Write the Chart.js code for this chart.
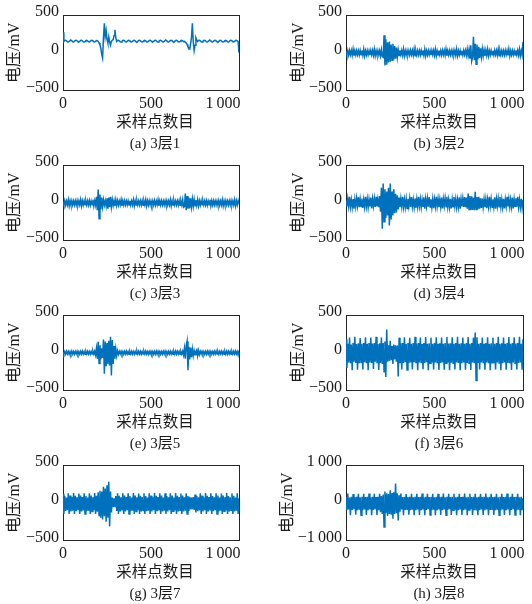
<!DOCTYPE html>
<html>
<head>
<meta charset="utf-8">
<title>3层小波包分解</title>
<script src="https://cdn.jsdelivr.net/npm/chart.js@4.4.1/dist/chart.umd.min.js"></script>
<style>
html, body { margin: 0; padding: 0; width: 532px; height: 604px; overflow: hidden; background: #fff; }
canvas { position: absolute; }
</style>
</head>
<body>
<script>
// values read every 5th sample point (x = index * sampleStep)
var sampleStep = 5;

var layer1 = [
  270,150,162,166,158,146,142,150,162,166,158,146,142,150,162,166,158,146,142,150,
  162,166,158,146,142,150,162,166,158,146,142,150,162,166,158,146,142,150,162,160,
  150,130,100,60,-20,-70,200,390,210,290,180,130,210,140,100,150,165,175,230,305,
  200,150,162,166,158,146,142,150,162,166,158,146,142,150,162,166,158,146,142,150,
  162,166,158,146,142,150,162,166,158,146,142,150,162,166,158,146,142,150,162,166,
  158,146,142,150,162,166,158,146,142,150,162,166,158,146,142,150,162,166,158,146,
  142,150,162,166,158,146,142,150,162,166,158,146,142,150,162,166,158,146,150,140,
  130,110,80,60,50,120,200,390,150,30,100,200,170,150,162,166,158,146,142,150,
  162,166,158,146,142,150,162,166,158,146,142,150,162,166,158,146,142,150,162,166,
  158,146,142,150,162,166,158,146,142,150,162,166,158,146,142,150,162,166,158,150,
  0
];

var layer2 = [
  20,-30,28,-30,32,-26,30,-34,48,-40,26,-30,30,-28,28,-30,32,-26,30,-34,
  48,-40,26,-30,30,-28,28,-30,32,-26,30,-34,48,-40,26,-30,30,-28,28,-40,
  40,-50,-60,233,-167,180,-160,140,-130,150,-120,110,-100,120,-90,90,-80,70,-60,40,
  -35,32,-26,30,-34,48,-40,26,-30,30,-28,28,-30,32,-26,30,-34,48,-40,26,
  -30,30,-28,28,-30,32,-26,30,-34,48,-40,26,-30,30,-28,28,-30,32,-26,30,
  -34,48,-40,26,-30,30,-28,28,-30,32,-26,30,-34,48,-40,26,-30,30,-28,28,
  -30,32,-26,30,-34,48,-40,26,-30,30,-28,28,-30,32,-26,30,-34,48,-40,40,
  -80,100,-110,-60,211,-100,120,-153,110,-90,80,-70,60,-55,50,-45,40,-40,35,-34,
  48,-40,26,-30,30,-28,28,-30,32,-26,30,-34,48,-40,26,-30,30,-28,28,-30,
  32,-26,30,-34,48,-40,26,-30,30,-28,28,-30,32,-26,30,-34,48,-40,26,-30,
  144
];

var layer3 = [
  10,-30,28,-32,24,-28,40,-42,26,-30,28,-28,24,-30,25,-30,28,-32,24,-28,
  40,-42,26,-30,28,-28,24,-30,25,-30,28,-32,24,-28,40,-42,26,-30,80,-100,
  176,-211,110,-90,70,-50,40,-30,28,-45,60,-78,70,-60,78,-55,40,-35,30,-45,
  40,-35,28,-32,24,-28,40,-42,26,-30,28,-28,24,-30,25,-30,28,-32,24,-28,
  40,-42,26,-30,28,-28,24,-30,25,-30,28,-32,24,-28,40,-42,26,-30,28,-28,
  24,-30,25,-30,28,-32,24,-28,40,-42,26,-30,28,-28,24,-30,25,-30,28,-32,
  24,-28,40,-42,26,-30,28,-28,24,-30,25,-30,28,-32,24,-28,40,-60,-50,122,
  -100,90,-80,70,-75,60,-55,50,-48,45,-40,35,-35,40,-42,26,-30,28,-28,24,
  -30,25,-30,28,-32,24,-28,40,-42,26,-30,28,-28,24,-30,25,-30,28,-32,24,
  -28,40,-42,26,-30,28,-28,24,-30,25,-30,28,-32,24,-28,40,-42,26,-30,28,
  -20
];

var layer4 = [
  30,-50,55,-45,78,-55,40,-60,50,-78,45,-52,60,-40,75,-58,48,-50,55,-70,
  42,-55,78,-48,50,-62,45,-50,70,-75,52,-45,58,-55,78,-50,40,-60,90,-120,
  200,-344,256,-250,180,-200,150,-170,200,-300,256,-220,150,-167,180,-140,120,-130,100,-90,
  70,-60,55,-50,78,-55,45,-58,50,-75,52,-45,60,-55,75,-50,45,-60,55,-70,
  48,-52,78,-45,50,-60,42,-55,72,-78,50,-48,58,-52,75,-55,45,-60,50,-72,
  45,-50,78,-48,52,-58,44,-55,70,-76,50,-45,60,-52,78,-56,42,-60,52,-74,
  46,-52,76,-46,50,-60,44,-55,72,-78,50,-48,58,-54,76,-60,70,-80,122,-90,
  90,-100,85,-95,70,-100,144,-90,75,-85,80,-78,60,-70,55,-60,50,-58,48,-72,
  45,-52,78,-46,50,-60,44,-55,72,-78,50,-48,58,-52,76,-56,45,-60,52,-74,
  46,-50,78,-48,52,-58,42,-55,70,-76,50,-46,60,-52,78,-56,44,-60,52,-70,
  40
];

var layer5 = [
  10,-18,16,-18,20,-16,18,-20,15,-18,22,-18,16,-20,18,-16,20,-18,16,-20,
  18,-16,22,-18,16,-20,18,-16,20,-18,16,-20,18,-18,22,-18,20,-30,60,-80,
  144,-144,100,-90,60,-70,176,-278,150,-180,130,-150,160,-170,211,-300,170,-150,90,-80,
  50,-40,25,-20,18,-16,20,-18,16,-20,18,-16,22,-18,16,-20,18,-16,20,-18,
  16,-20,18,-18,22,-18,20,-16,18,-20,16,-18,20,-16,22,-18,16,-20,18,-16,
  20,-18,16,-20,18,-18,22,-18,20,-16,18,-20,16,-18,20,-16,22,-18,16,-20,
  18,-16,20,-18,16,-20,18,-18,22,-18,20,-16,18,-20,16,-18,20,-30,60,-80,
  90,153,-233,80,-90,70,-60,50,-40,30,-25,20,40,-40,30,-25,18,-16,20,-18,
  16,-20,18,-18,22,-18,20,-16,18,-20,16,-18,20,-16,22,-18,16,-20,18,-16,
  20,-18,16,-20,18,-18,22,-18,20,-16,18,-20,16,-18,20,-16,22,-18,16,-30,
  30
];

var layer6 = [
  180,-200,120,-130,200,-140,110,-230,130,-120,210,-135,115,-225,125,-140,195,-130,120,-220,
  130,-125,205,-140,118,-230,128,-130,200,-135,122,-215,130,-120,210,-140,115,-228,125,-135,
  200,-150,130,-250,150,-322,309,-120,100,-110,160,-100,90,-150,110,-90,100,-120,95,-313,
  200,-140,125,-220,130,-135,205,-125,120,-228,128,-140,198,-130,118,-222,130,-125,210,-138,
  122,-230,130,-130,202,-140,116,-218,128,-135,208,-125,120,-232,126,-140,200,-130,118,-220,
  130,-128,206,-138,120,-228,125,-135,200,-130,118,-225,130,-140,210,-128,122,-230,126,-132,
  204,-140,118,-220,130,-130,210,-136,120,-232,125,-140,200,-128,118,-224,130,-135,208,-140,
  120,-228,130,-130,200,-140,269,-367,205,-135,120,-222,128,-130,202,-140,118,-226,130,-128,
  206,-138,120,-230,126,-132,200,-140,118,-220,130,-130,210,-136,120,-232,125,-140,200,-128,
  118,-224,130,-135,208,-140,120,-228,130,-130,204,-138,122,-220,128,-135,210,-130,120,-225,
  180
];

var layer7 = [
  120,-150,90,-110,70,-100,125,-150,95,-115,75,-105,128,-148,92,-112,72,-100,122,-150,
  94,-116,74,-102,126,-150,90,-112,70,-104,124,-148,95,-115,72,-100,128,-150,92,-120,
  140,-170,160,-200,150,-220,211,-180,190,-250,230,-200,278,-313,150,-130,70,-60,60,-60,
  90,-110,125,-150,92,-114,72,-102,126,-150,94,-116,74,-100,124,-148,90,-112,70,-104,
  128,-150,95,-115,72,-100,122,-150,92,-116,74,-102,126,-148,90,-112,70,-104,124,-150,
  94,-115,72,-100,128,-150,92,-112,74,-102,124,-148,95,-116,70,-104,126,-150,90,-114,
  72,-100,124,-150,94,-112,70,-102,128,-148,92,-116,74,-100,122,-150,95,-114,72,-104,
  126,-148,90,-110,80,-90,70,-85,75,-95,110,-130,90,-112,72,-102,124,-150,94,-116,
  70,-100,128,-148,92,-114,74,-102,124,-150,90,-112,72,-100,126,-150,95,-116,70,-104,
  122,-148,94,-112,74,-102,128,-150,90,-114,72,-100,124,-150,92,-116,70,-104,126,-148,
  60
];

var layer8 = [
  150,-200,244,-180,140,-333,160,-190,230,-170,150,-320,155,-200,240,-185,145,-330,160,-195,
  235,-175,150,-325,158,-200,244,-180,142,-330,160,-190,238,-172,150,-322,155,-200,240,-250,
  180,-300,220,-644,300,-280,250,-350,230,-300,333,-320,260,-422,280,-300,511,-280,250,-467,
  200,-240,244,-180,150,-333,160,-190,232,-175,150,-320,158,-200,240,-182,145,-328,160,-195,
  238,-175,150,-325,155,-200,244,-180,142,-330,160,-190,236,-172,150,-322,155,-200,240,-185,
  145,-330,160,-195,235,-175,150,-325,158,-200,244,-180,142,-330,160,-190,238,-172,150,-322,
  155,-200,240,-185,145,-330,160,-195,235,-175,150,-325,158,-200,244,-180,142,-330,160,-190,
  238,-172,150,-322,155,-200,240,-185,145,-330,160,-195,235,-175,150,-325,158,-200,244,-180,
  142,-330,160,-190,238,-172,150,-322,155,-200,240,-185,145,-330,160,-195,235,-175,150,-325,
  158,-200,244,-180,142,-330,160,-190,238,-172,150,-322,155,-200,240,-185,145,-330,160,-195,
  120
];

var series = [layer1, layer2, layer3, layer4, layer5, layer6, layer7, layer8];
var captions = ['(a) 3层1', '(b) 3层2', '(c) 3层3', '(d) 3层4',
                '(e) 3层5', '(f) 3层6', '(g) 3层7', '(h) 3层8'];
var yLimits = [500, 500, 500, 500, 500, 500, 500, 1000];
var xTitle = '采样点数目';
var yTitle = '电压/mV';

var fontFamily = '"Liberation Serif", "Noto Sans CJK SC", serif';
var textColor = '#1a1a1a';
var axisColor = '#262626';
var lineColor = '#0072BD';

// panel frames: left, top, padLeft, yAxisWidth, plotWidth, rightSpace
var frames = [
  [0, 0, 7, 56, 176, 64],     [266, 0, 25, 55, 177, 64],
  [0, 150, 7, 56, 176, 64],   [266, 150, 25, 55, 177, 64],
  [0, 300, 7, 56, 176, 64],   [266, 300, 25, 55, 177, 64],
  [0, 450, 7, 56, 176, 64],   [266, 450, 14, 66, 177, 75]
];

function numText(v) {
  var s = String(Math.abs(v));
  if (s.length > 3) s = s.slice(0, s.length - 3) + '\u2009' + s.slice(-3);
  return (v < 0 ? '\u2212' : '') + s;
}

function makePanel(i) {
  var f = frames[i];
  var canvas = document.createElement('canvas');
  canvas.width = f[2] + f[3] + f[4] + f[5];
  canvas.height = 152;
  canvas.style.left = f[0] + 'px';
  canvas.style.top = f[1] + 'px';
  document.body.appendChild(canvas);

  var points = series[i].map(function (v, k) { return { x: k * sampleStep, y: v }; });
  var lim = yLimits[i];
  var border = { display: true, color: axisColor, width: 1 };
  var noGrid = { display: false, drawTicks: false };

  new Chart(canvas.getContext('2d'), {
    type: 'line',
    data: {
      datasets: [{
        data: points,
        borderColor: lineColor,
        borderWidth: 1.5,
        pointRadius: 0,
        tension: 0,
        fill: false
      }]
    },
    options: {
      responsive: false,
      animation: false,
      events: [],
      layout: { padding: { left: f[2], right: 0, top: 15, bottom: 0 } },
      plugins: {
        legend: { display: false },
        tooltip: { enabled: false },
        title: {
          display: true, text: captions[i], position: 'bottom', color: textColor,
          font: { family: fontFamily, size: 15, weight: 'normal', lineHeight: 1 },
          padding: 0
        },
        subtitle: {
          display: true, text: xTitle, position: 'bottom', color: textColor,
          font: { family: fontFamily, size: 15.5, weight: 'normal', lineHeight: 1 },
          padding: { top: 0, bottom: 6 }
        }
      },
      scales: {
        x: {
          type: 'linear', position: 'bottom', min: 0, max: 1000,
          grid: noGrid, border: border,
          ticks: {
            stepSize: 500, padding: 4, maxRotation: 0, autoSkip: false,
            color: textColor, font: { family: fontFamily, size: 16 },
            callback: function (v) {
              return v === 1000 ? numText(v) + '\u2002\u2002\u2002\u2002' : numText(v);
            }
          },
          afterFit: function (s) { s.height = 25; }
        },
        y: {
          type: 'linear', position: 'left', min: -lim, max: lim,
          grid: noGrid, border: border,
          ticks: {
            stepSize: lim, padding: 4, labelOffset: -3,
            color: textColor, font: { family: fontFamily, size: 16 },
            callback: function (v) { return numText(v); }
          },
          title: {
            display: true, text: yTitle, color: textColor, padding: 0,
            font: { family: fontFamily, size: 16, lineHeight: 1 }
          },
          afterFit: function (s) { s.width = f[3]; }
        },
        xTop: {
          type: 'linear', position: 'top', min: 0, max: 1000,
          grid: noGrid, border: border, ticks: { display: false },
          afterFit: function (s) { s.height = 0; }
        },
        yRight: {
          type: 'linear', position: 'right', min: -lim, max: lim,
          grid: noGrid, border: border, ticks: { display: false },
          afterFit: function (s) { s.width = f[5]; }
        }
      }
    }
  });
}

for (var i = 0; i < series.length; i++) {
  makePanel(i);
}
</script>
</body>
</html>
